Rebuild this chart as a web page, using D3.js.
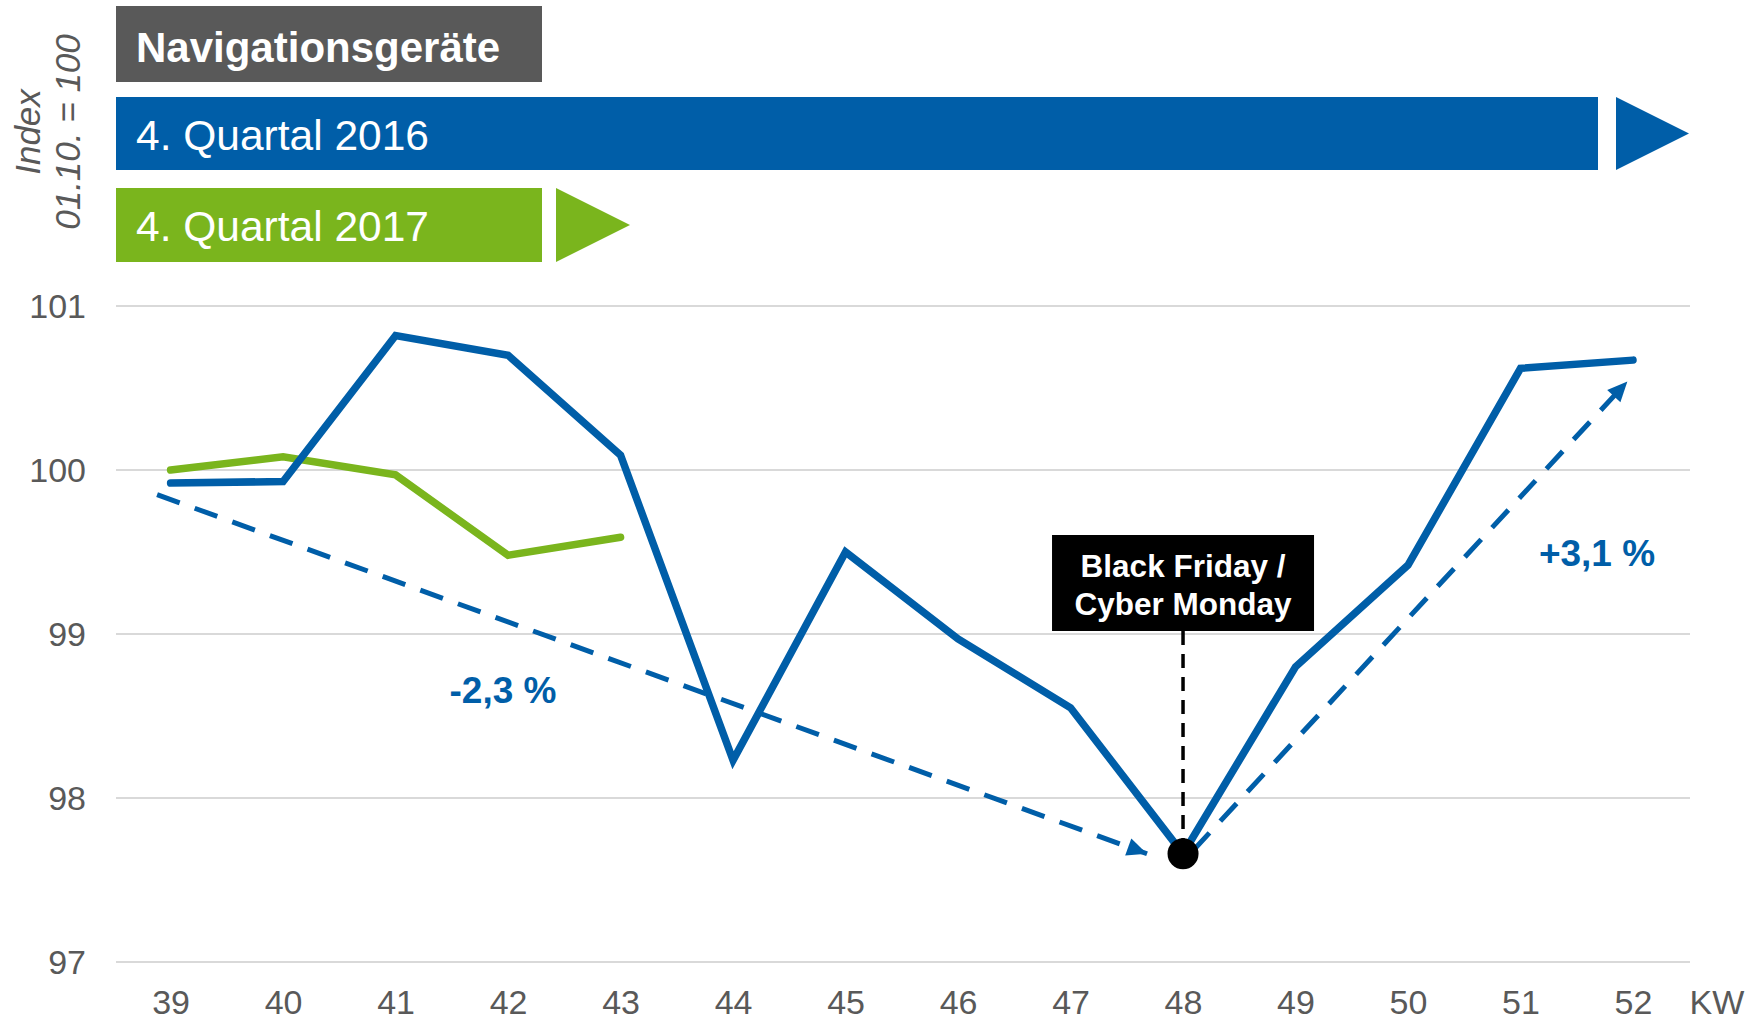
<!DOCTYPE html>
<html>
<head>
<meta charset="utf-8">
<script src="https://cdn.jsdelivr.net/npm/d3@7"></script>
<style>
  body { margin: 0; background: #fff; }
  svg text { font-family: "Liberation Sans", Arial, sans-serif; }
</style>
</head>
<body>
<svg width="1760" height="1020"></svg>
<script>
const weeks = [39, 40, 41, 42, 43, 44, 45, 46, 47, 48, 49, 50, 51, 52];
const q2016 = [99.92, 99.93, 100.82, 100.70, 100.09, 98.23, 99.50, 98.97, 98.55, 97.66, 98.80, 99.42, 100.62, 100.67];
const q2017 = [100.0, 100.08, 99.97, 99.48, 99.59];
const yTicks = [97, 98, 99, 100, 101];

// trend arrows: [week, value] start and end
const trendDown = [[38.88, 99.85], [47.68, 97.66]];
const trendUp = [[48.09, 97.68], [51.95, 100.54]];
const eventWeek = 48;

const w = 1760;
const h = 1020;
const blue = '#005ea8';
const green = '#7ab51d';
const grey = '#595959';

const x = d3.scaleLinear().domain([39, 52]).range([170.6, 1633]);
const y = d3.scaleLinear().domain([97, 101]).range([962, 306]);

const svg = d3.select('svg');

const defs = svg.append('defs');
defs.append('marker')
  .attr('id', 'arrow')
  .attr('markerUnits', 'userSpaceOnUse')
  .attr('viewBox', '0 0 20 20')
  .attr('refX', 20)
  .attr('refY', 10)
  .attr('markerWidth', 22)
  .attr('markerHeight', 20)
  .attr('orient', 'auto')
  .append('path')
  .attr('d', 'M0,1 L20,10 L0,19 Z')
  .attr('fill', blue);

// gridlines
svg.append('g')
  .selectAll('line')
  .data(yTicks)
  .enter()
  .append('line')
  .attr('x1', 116)
  .attr('x2', 1690)
  .attr('y1', d => y(d))
  .attr('y2', d => y(d))
  .attr('stroke', '#d9d9d9')
  .attr('stroke-width', 2);

// y labels
const yAxis = d3.axisLeft(y).tickValues(yTicks).tickSize(0).tickPadding(0).tickFormat(d3.format('d'));
svg.append('g')
  .attr('transform', 'translate(86,0)')
  .call(yAxis)
  .call(g => g.select('.domain').remove())
  .selectAll('text')
  .attr('fill', grey)
  .style('font-size', '34px')
  .attr('dy', '0.35em');

// x labels
const xAxis = d3.axisBottom(x).tickValues(weeks).tickSize(0).tickPadding(0).tickFormat(d3.format('d'));
svg.append('g')
  .attr('transform', 'translate(0,990)')
  .call(xAxis)
  .call(g => g.select('.domain').remove())
  .selectAll('text')
  .attr('fill', grey)
  .style('font-size', '34px')
  .attr('dy', '0.71em');

svg.append('text')
  .attr('x', 1717)
  .attr('y', 1014)
  .attr('text-anchor', 'middle')
  .attr('fill', grey)
  .style('font-size', '34px')
  .text('KW');

// y title
svg.append('text')
  .attr('transform', 'translate(40,132) rotate(-90)')
  .attr('text-anchor', 'middle')
  .attr('fill', grey)
  .style('font-size', '35px')
  .style('font-style', 'italic')
  .text('Index');
svg.append('text')
  .attr('transform', 'translate(80,132) rotate(-90)')
  .attr('text-anchor', 'middle')
  .attr('fill', grey)
  .style('font-size', '35px')
  .style('font-style', 'italic')
  .text('01.10. = 100');

// header boxes
svg.append('rect').attr('x', 116).attr('y', 6).attr('width', 426).attr('height', 76).attr('fill', grey);
svg.append('text').attr('x', 136).attr('y', 62).attr('fill', '#fff')
  .style('font-size', '42px').style('font-weight', 'bold').text('Navigationsgeräte');

svg.append('rect').attr('x', 116).attr('y', 97).attr('width', 1482).attr('height', 73).attr('fill', blue);
svg.append('path').attr('d', 'M1616,97 L1689,133.5 L1616,170 Z').attr('fill', blue);
svg.append('text').attr('x', 136).attr('y', 150).attr('fill', '#fff')
  .style('font-size', '42.5px').text('4. Quartal 2016');

svg.append('rect').attr('x', 116).attr('y', 188).attr('width', 426).attr('height', 74).attr('fill', green);
svg.append('path').attr('d', 'M556,188 L630,225 L556,262 Z').attr('fill', green);
svg.append('text').attr('x', 136).attr('y', 241).attr('fill', '#fff')
  .style('font-size', '42.5px').text('4. Quartal 2017');

// trend arrows
const trendLine = d3.line().x(d => x(d[0])).y(d => y(d[1]));
[trendDown, trendUp].forEach(t => {
  svg.append('path')
    .attr('d', trendLine(t))
    .attr('fill', 'none')
    .attr('stroke', blue)
    .attr('stroke-width', 5)
    .attr('stroke-dasharray', '24,16')
    .attr('marker-end', 'url(#arrow)');
});

// series lines
const line = d3.line().x((d, i) => x(weeks[i])).y(d => y(d));
svg.append('path')
  .attr('d', line(q2017))
  .attr('fill', 'none')
  .attr('stroke', green)
  .attr('stroke-width', 7.5)
  .attr('stroke-linecap', 'round');

svg.append('path')
  .attr('d', line(q2016))
  .attr('fill', 'none')
  .attr('stroke', blue)
  .attr('stroke-width', 7.5)
  .attr('stroke-linecap', 'round');

// event marker
const ei = weeks.indexOf(eventWeek);
svg.append('line')
  .attr('x1', x(eventWeek)).attr('x2', x(eventWeek))
  .attr('y1', 631).attr('y2', y(q2016[ei]))
  .attr('stroke', '#000')
  .attr('stroke-width', 3.5)
  .attr('stroke-dasharray', '14,9');

svg.append('circle')
  .attr('cx', x(eventWeek))
  .attr('cy', y(q2016[ei]))
  .attr('r', 15.5)
  .attr('fill', '#000');

svg.append('rect')
  .attr('x', x(eventWeek) - 131).attr('y', 535)
  .attr('width', 262).attr('height', 96)
  .attr('fill', '#000');
svg.append('text')
  .attr('x', x(eventWeek)).attr('y', 577)
  .attr('text-anchor', 'middle').attr('fill', '#fff')
  .style('font-size', '31.5px').style('font-weight', 'bold')
  .text('Black Friday /');
svg.append('text')
  .attr('x', x(eventWeek)).attr('y', 615)
  .attr('text-anchor', 'middle').attr('fill', '#fff')
  .style('font-size', '31.5px').style('font-weight', 'bold')
  .text('Cyber Monday');

// change labels
svg.append('text')
  .attr('x', 503).attr('y', 703)
  .attr('text-anchor', 'middle').attr('fill', blue)
  .style('font-size', '37px').style('font-weight', 'bold')
  .text('-2,3 %');
svg.append('text')
  .attr('x', 1597).attr('y', 566)
  .attr('text-anchor', 'middle').attr('fill', blue)
  .style('font-size', '37px').style('font-weight', 'bold')
  .text('+3,1 %');
</script>
</body>
</html>
